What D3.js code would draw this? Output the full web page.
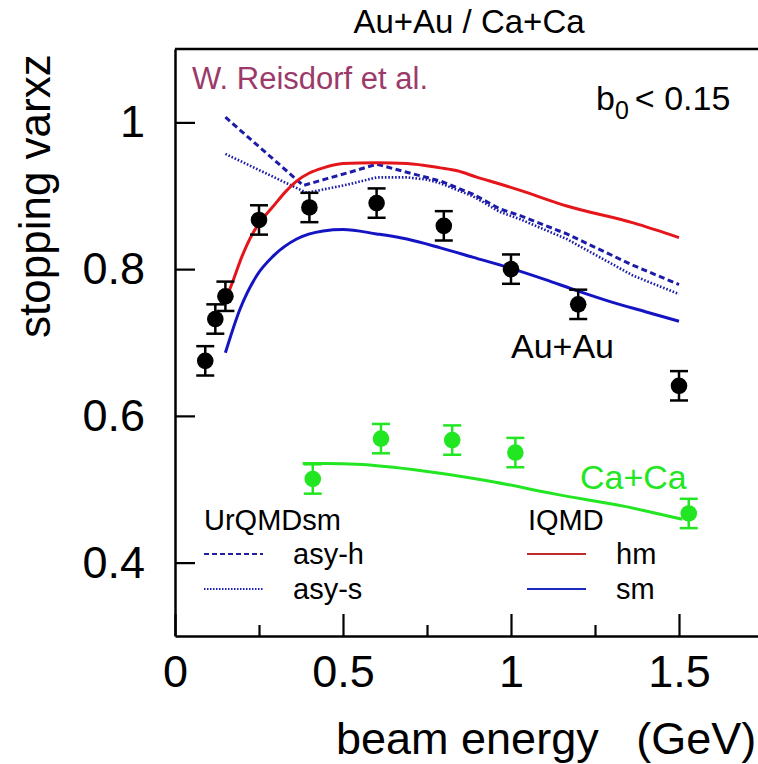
<!DOCTYPE html>
<html>
<head>
<meta charset="utf-8">
<script src="https://cdn.jsdelivr.net/npm/d3@7/dist/d3.min.js"></script>
<style>
  html, body { margin: 0; padding: 0; background: #fff; }
  svg { display: block; font-family: "Liberation Sans", Arial, Helvetica, sans-serif; }
</style>
</head>
<body>
<svg id="chart" width="758" height="764"></svg>
<script>
// Measured stopping (varxz) for central collisions, beam energy in GeV
const auEnergy = [0.09, 0.12, 0.15, 0.25, 0.40, 0.60, 0.80, 1.00, 1.20, 1.50];
const auStop   = [0.675, 0.732, 0.763, 0.867, 0.884, 0.890, 0.859, 0.800, 0.752, 0.641];
const auErr    = [0.02, 0.02, 0.02, 0.02, 0.02, 0.02, 0.02, 0.02, 0.02, 0.02];

const caEnergy = [0.41, 0.613, 0.825, 1.013, 1.529];
const caStop   = [0.514, 0.569, 0.567, 0.550, 0.467];
const caErr    = [0.02, 0.02, 0.02, 0.02, 0.02];

// IQMD, hard EoS with momentum dependence (Au+Au)
const hmEnergy = [0.15, 0.175, 0.2, 0.233, 0.25, 0.293, 0.33, 0.362, 0.4, 0.441, 0.5, 0.6, 0.69, 0.79, 0.84, 0.9, 0.967, 1.03, 1.166, 1.364, 1.5];
const hmStop   = [0.757, 0.787, 0.818, 0.850, 0.862, 0.886, 0.906, 0.920, 0.931, 0.938, 0.944, 0.945, 0.944, 0.938, 0.934, 0.925, 0.916, 0.907, 0.886, 0.863, 0.843];

// IQMD, soft EoS with momentum dependence (Au+Au)
const smEnergy = [0.15, 0.193, 0.243, 0.293, 0.362, 0.441, 0.5, 0.6, 0.69, 0.79, 0.888, 1.0, 1.1, 1.2, 1.3, 1.4, 1.5];
const smStop   = [0.686, 0.745, 0.791, 0.818, 0.841, 0.852, 0.854, 0.848, 0.841, 0.829, 0.816, 0.801, 0.786, 0.770, 0.755, 0.742, 0.729];

// IQMD soft, Ca+Ca
const smCaEnergy = [0.38, 0.45, 0.541, 0.739, 0.9375, 1.136, 1.334, 1.51];
const smCaStop   = [0.535, 0.535, 0.534, 0.525, 0.511, 0.493, 0.477, 0.459];

// UrQMD (soft, momentum dependent) with hard / soft symmetry energy
const asyHEnergy = [0.15, 0.382, 0.45, 0.52, 0.6, 0.69, 0.79, 0.888, 0.967, 1.027, 1.166, 1.364, 1.5];
const asyHStop   = [1.007, 0.914, 0.923, 0.932, 0.943, 0.932, 0.920, 0.902, 0.882, 0.873, 0.848, 0.805, 0.779];
const asySEnergy = [0.15, 0.392, 0.49, 0.521, 0.6, 0.69, 0.75, 0.79, 0.888, 0.967, 1.027, 1.166, 1.364, 1.5];
const asySStop   = [0.957, 0.904, 0.913, 0.916, 0.925, 0.925, 0.922, 0.917, 0.899, 0.878, 0.868, 0.841, 0.791, 0.766];

const xMajorTicks = [0, 0.5, 1, 1.5];
const xMinorTicks = [0.25, 0.75, 1.25];
const yMajorTicks = [0.4, 0.6, 0.8, 1];

const zip = (xs, ys) => xs.map((v, i) => [v, ys[i]]);

const svg = d3.select("#chart");
const plotLeft = 175, plotRight = 763, plotTop = 49, plotBottom = 636;

const x = d3.scaleLinear().domain([0, 1.75]).range([plotLeft, plotRight]);
const y = d3.scaleLinear().domain([0.3, 1.1]).range([plotBottom, plotTop]);

const RED = "#e5161b", BLUE = "#1414c4", DBLUE = "#1c1ca8", GREEN = "#22e622";

// frame: top edge
svg.append("line").attr("x1", plotLeft).attr("x2", 758).attr("y1", plotTop).attr("y2", plotTop)
  .attr("stroke", "#000").attr("stroke-width", 2.5);

// x axis
const gx = svg.append("g").attr("transform", `translate(0,${plotBottom})`);
gx.call(d3.axisBottom(x).tickValues(xMajorTicks).tickSize(-22).tickSizeOuter(0)
  .tickPadding(19).tickFormat(d3.format("~g")));
const gxm = svg.append("g").attr("transform", `translate(0,${plotBottom})`);
gxm.call(d3.axisBottom(x).tickValues(xMinorTicks).tickSize(-11).tickSizeOuter(0).tickFormat(""));
gxm.select(".domain").remove();

// y axis
const gy = svg.append("g").attr("transform", `translate(${plotLeft},0)`);
gy.call(d3.axisLeft(y).tickValues(yMajorTicks).tickSize(-20).tickSizeOuter(0)
  .tickPadding(30).tickFormat(d3.format("~g")));

svg.selectAll(".domain").attr("stroke", "#000").attr("stroke-width", 2.5);
svg.selectAll(".tick line").attr("stroke", "#000").attr("stroke-width", 2.2);
svg.selectAll(".tick text").attr("font-size", 45).attr("fill", "#000")
  .attr("font-family", "Liberation Sans, Arial, sans-serif");

// axis titles
svg.append("text").attr("x", 336).attr("y", 754).attr("font-size", 45)
  .attr("xml:space", "preserve").style("white-space", "pre")
  .text("beam energy   (GeV)");
svg.append("text").attr("transform", "translate(50,338) rotate(-90)")
  .attr("font-size", 44).text("stopping varxz");

// title
svg.append("text").attr("x", 469).attr("y", 33).attr("text-anchor", "middle")
  .attr("font-size", 33).text("Au+Au / Ca+Ca");

const plot = svg.append("g");
const curve = (xs, ys, color, width, dash, type) => {
  plot.append("path")
    .attr("fill", "none").attr("stroke", color).attr("stroke-width", width)
    .attr("stroke-dasharray", dash)
    .attr("d", d3.line().x(d => x(d[0])).y(d => y(d[1])).curve(type)(zip(xs, ys)));
};

curve(asyHEnergy, asyHStop, DBLUE, 3, "6,3.5", d3.curveLinear);
curve(asySEnergy, asySStop, DBLUE, 2.6, "1.6,1.8", d3.curveLinear);
curve(hmEnergy, hmStop, RED, 3, null, d3.curveMonotoneX);
curve(smEnergy, smStop, BLUE, 3, null, d3.curveMonotoneX);
curve(smCaEnergy, smCaStop, GREEN, 3, null, d3.curveMonotoneX);

// data points with error bars
const points = (xs, ys, es, color) => {
  const g = plot.append("g");
  const data = xs.map((v, i) => ({ e: v, s: ys[i], err: es[i] }));
  const cap = 9;
  const pt = g.selectAll("g").data(data).join("g");
  pt.append("line").attr("x1", d => x(d.e)).attr("x2", d => x(d.e))
    .attr("y1", d => y(d.s - d.err)).attr("y2", d => y(d.s + d.err))
    .attr("stroke", color).attr("stroke-width", 2.5);
  pt.append("line").attr("x1", d => x(d.e) - cap).attr("x2", d => x(d.e) + cap)
    .attr("y1", d => y(d.s + d.err)).attr("y2", d => y(d.s + d.err))
    .attr("stroke", color).attr("stroke-width", 2.5);
  pt.append("line").attr("x1", d => x(d.e) - cap).attr("x2", d => x(d.e) + cap)
    .attr("y1", d => y(d.s - d.err)).attr("y2", d => y(d.s - d.err))
    .attr("stroke", color).attr("stroke-width", 2.5);
  pt.append("circle").attr("cx", d => x(d.e)).attr("cy", d => y(d.s)).attr("r", 8.3)
    .attr("fill", color);
};
points(auEnergy, auStop, auErr, "#000");
points(caEnergy, caStop, caErr, GREEN);

// annotations
svg.append("text").attr("x", 192).attr("y", 89).attr("font-size", 31)
  .attr("fill", "#9b3a6a").text("W. Reisdorf et al.");
const b0 = svg.append("text").attr("x", 596).attr("y", 110).attr("font-size", 34);
b0.append("tspan").text("b");
b0.append("tspan").attr("font-size", 25).attr("dy", 9).text("0");
b0.append("tspan").attr("dy", -9).attr("dx", 6).text("< 0.15");
svg.append("text").attr("x", 511).attr("y", 358).attr("font-size", 34).text("Au+Au");
svg.append("text").attr("x", 580).attr("y", 489).attr("font-size", 34)
  .attr("fill", GREEN).text("Ca+Ca");

// legend
const legend = svg.append("g").attr("font-size", 29);
legend.append("text").attr("x", 204).attr("y", 530).text("UrQMDsm");
legend.append("text").attr("x", 528).attr("y", 530).text("IQMD");
const entries = [
  { x1: 204, ty: 564, ly: 554, color: "#2020a0", dash: "5,3", w: 2, label: "asy-h", tx: 293 },
  { x1: 204, ty: 599, ly: 589, color: "#2020b8", dash: "1.5,1.5", w: 2, label: "asy-s", tx: 293 },
  { x1: 527, ty: 564, ly: 554, color: "#c02a2a", dash: null, w: 2.2, label: "hm", tx: 616 },
  { x1: 527, ty: 599, ly: 589, color: "#1a2ac0", dash: null, w: 2.2, label: "sm", tx: 616 }
];
entries.forEach(d => {
  legend.append("line").attr("x1", d.x1).attr("x2", d.x1 + 59)
    .attr("y1", d.ly).attr("y2", d.ly).attr("stroke", d.color)
    .attr("stroke-width", d.w).attr("stroke-dasharray", d.dash);
  legend.append("text").attr("x", d.tx).attr("y", d.ty).text(d.label);
});
</script>
</body>
</html>
